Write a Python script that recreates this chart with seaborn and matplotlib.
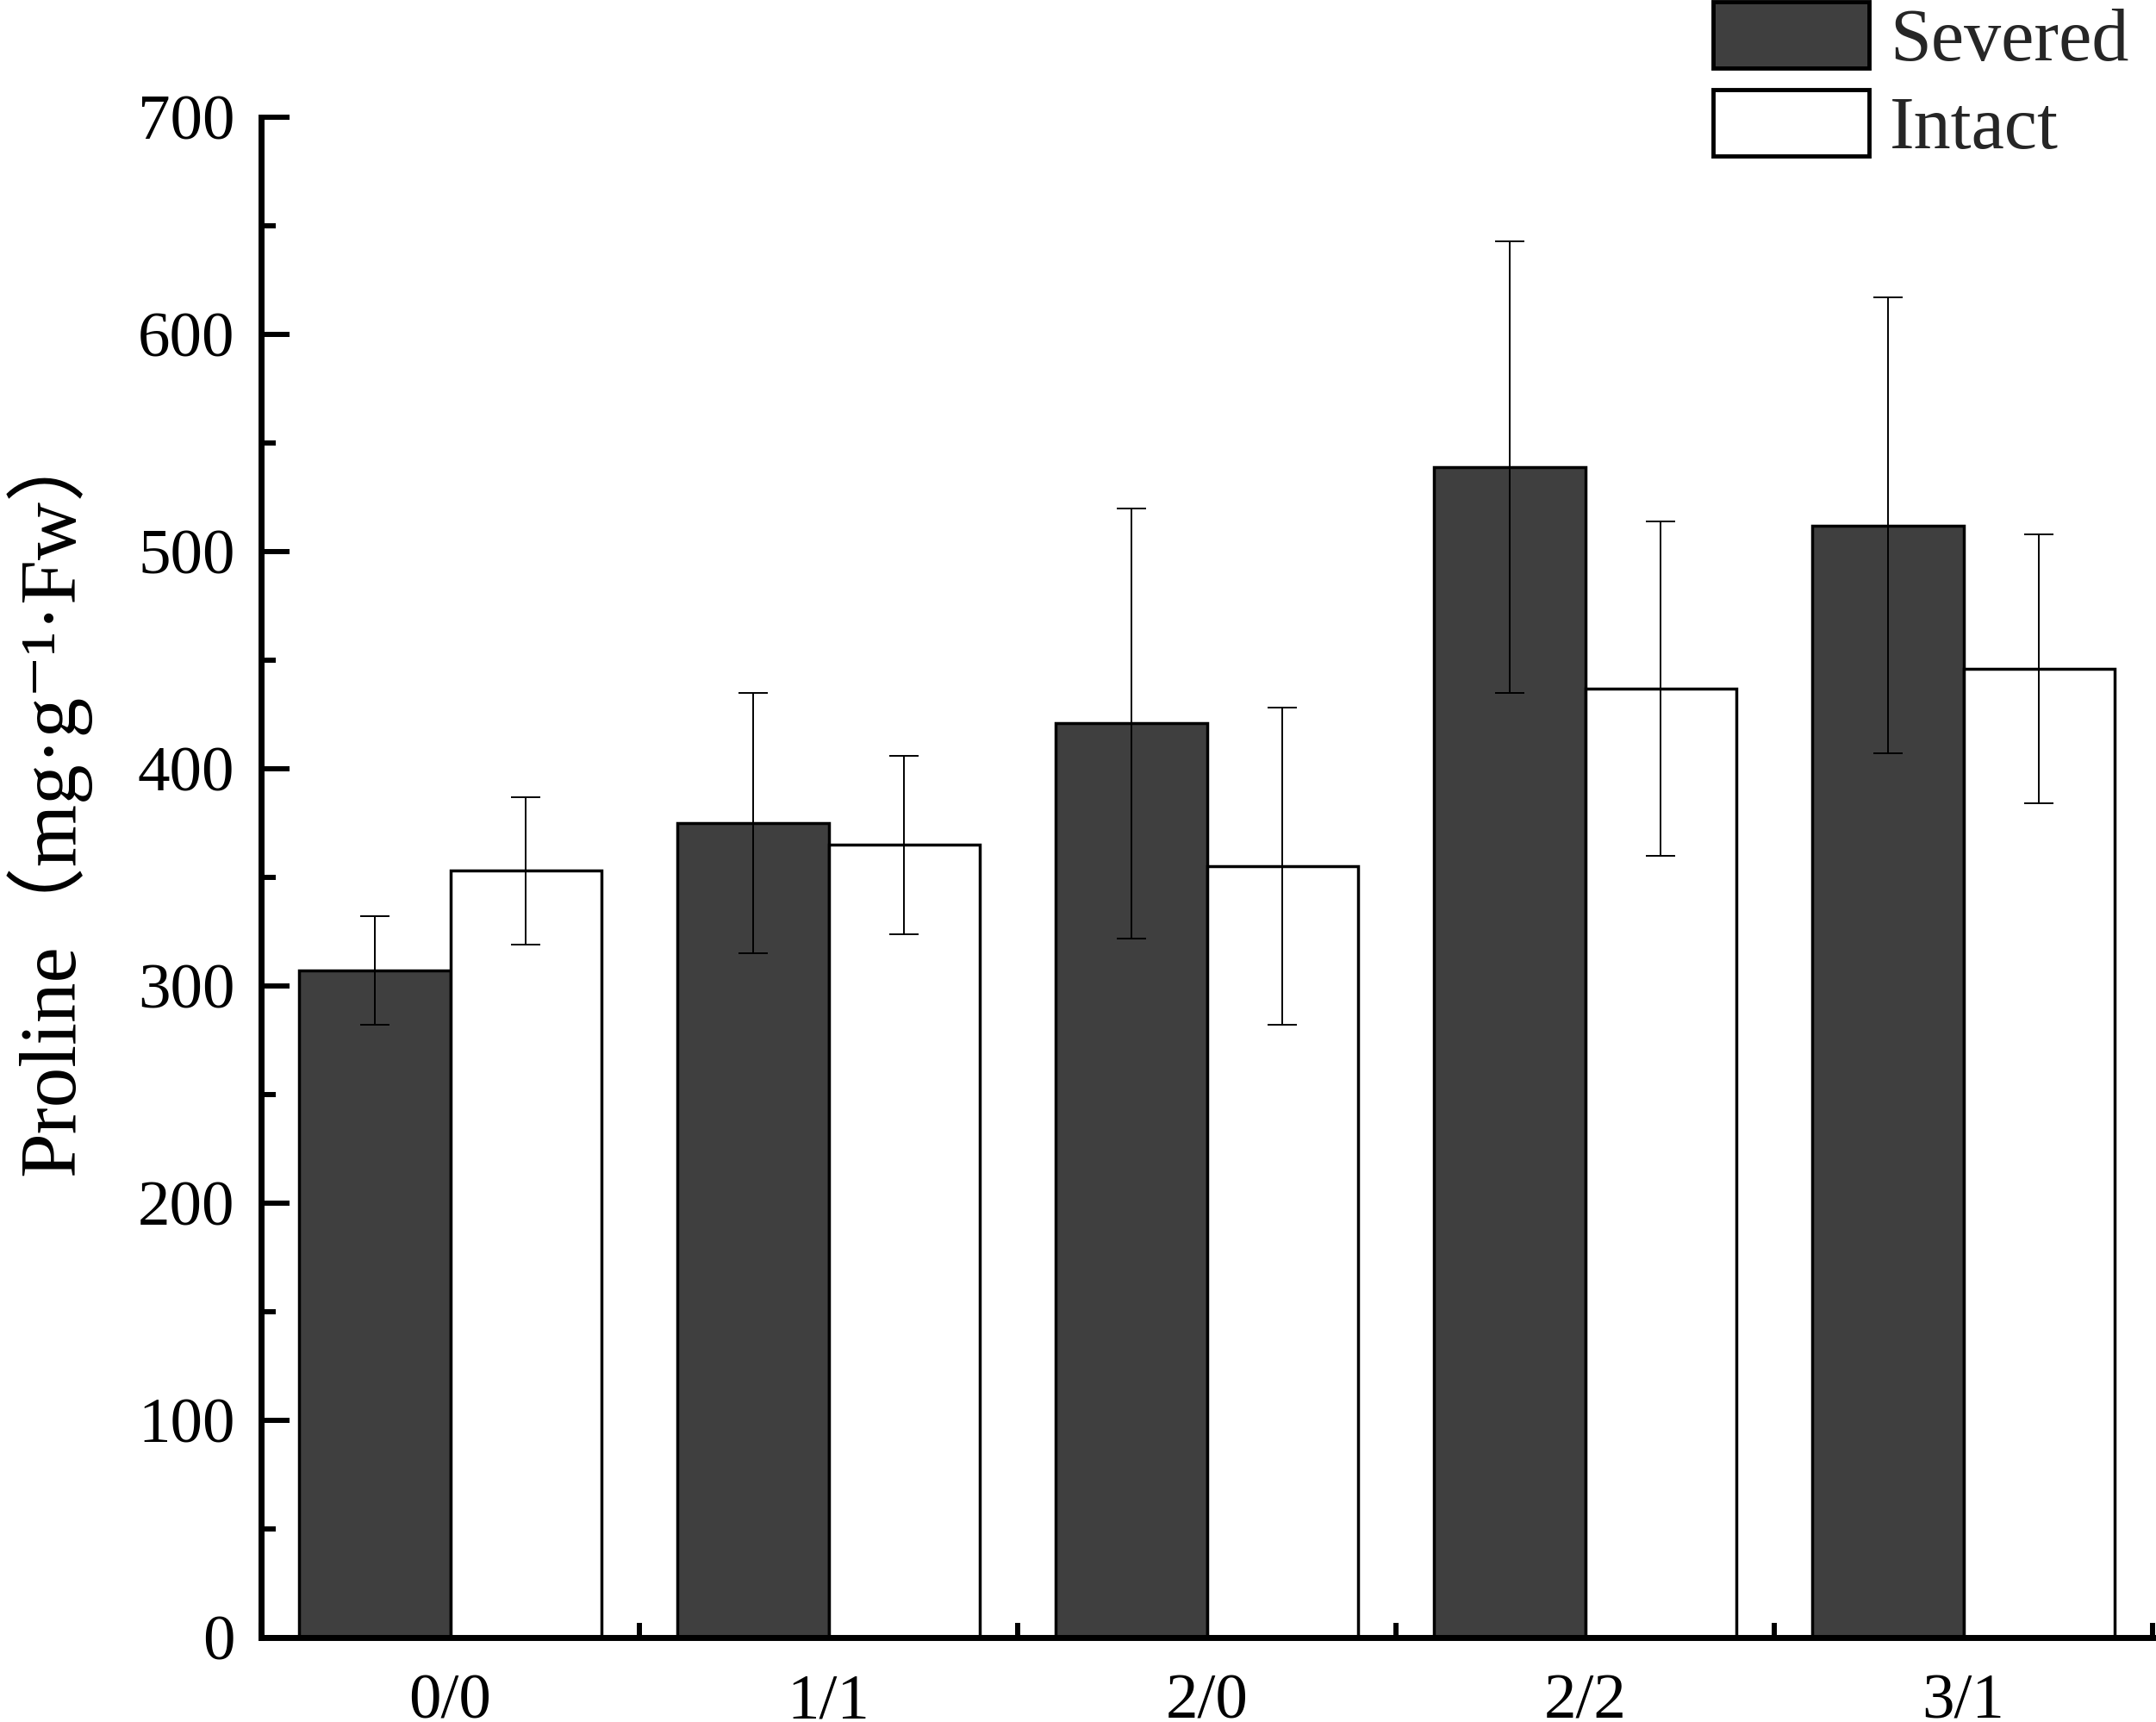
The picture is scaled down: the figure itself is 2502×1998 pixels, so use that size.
import pandas as pd
import matplotlib
matplotlib.use('Agg')
import matplotlib.pyplot as plt
from matplotlib.patches import Patch
from matplotlib.ticker import MultipleLocator, FixedLocator, NullFormatter
import seaborn as sns

# data
groups = ['0/0', '1/1', '2/0', '2/2', '3/1']
severed_mean = [307, 375, 421, 539, 512]
severed_err = [25, 60, 99, 104, 105]
intact_mean = [353, 365, 355, 437, 446]
intact_err = [34, 41, 73, 77, 62]
treatments = ['Severed', 'Intact']

sns.set_theme(style="white")
plt.rcParams['font.family'] = ['Liberation Serif', 'Noto Sans CJK SC', 'DejaVu Sans']
plt.rcParams['axes.unicode_minus'] = False

df = pd.DataFrame({
    'group': groups * 2,
    'treatment': ['Severed'] * len(groups) + ['Intact'] * len(groups),
    'value': severed_mean + intact_mean,
})
errs = {'Severed': severed_err, 'Intact': intact_err}
colors = {'Severed': '#3f3f3f', 'Intact': 'white'}

fig = plt.figure(figsize=(25.02, 19.98), dpi=100)
ax = fig.add_axes([303 / 2502, 1 - 1900 / 1998, (2498 - 303) / 2502, (1900 - 136) / 1998])

sns.barplot(data=df, x='group', y='value', hue='treatment', hue_order=treatments,
            palette=colors, edgecolor='black', linewidth=2.5, width=0.8,
            errorbar=None, legend=False, ax=ax)

# error bars on top of each bar
for cont, name in zip(ax.containers, treatments):
    xs = [b.get_x() + b.get_width() / 2 for b in cont]
    hs = [b.get_height() for b in cont]
    ax.errorbar(xs, hs, yerr=errs[name], fmt='none', ecolor='black',
                elinewidth=1.4, capsize=12.5, capthick=1.4, zorder=5)

ax.set_xlim(-0.5, len(groups) - 0.5)
ax.set_ylim(0, 700)
ax.yaxis.set_major_locator(MultipleLocator(100))
ax.yaxis.set_minor_locator(MultipleLocator(50))
ax.xaxis.set_minor_locator(FixedLocator([i - 0.5 for i in range(len(groups) + 1)]))
ax.xaxis.set_minor_formatter(NullFormatter())

for s in ['top', 'right']:
    ax.spines[s].set_visible(False)
for s in ['left', 'bottom']:
    ax.spines[s].set_linewidth(5)
    ax.spines[s].set_color('black')

ax.tick_params(axis='both', which='major', direction='in', length=24, width=4.3,
               labelsize=54, colors='black')
ax.tick_params(axis='both', which='minor', direction='in', length=12, width=4.3,
               colors='black')
ax.tick_params(axis='y', which='major', pad=22)
ax.tick_params(axis='x', which='major', pad=30)
ax.tick_params(axis='both', which='both', left=True, bottom=True)

ax.set_xlabel('')
ax.set_ylabel('Proline（mg·g⁻¹·Fw）', fontsize=67, color='black')
ax.yaxis.set_label_coords(-0.090, 0.553)

handles = [Patch(facecolor=colors[t], edgecolor='black', linewidth=3.5) for t in treatments]
fig.legend(handles, treatments, loc='upper left', bbox_to_anchor=(1988 / 2502, 1 - 2 / 1998),
           frameon=False, fontsize=62, handlelength=2.1, handleheight=1.0,
           labelspacing=0.17, handletextpad=0.28, borderpad=0, borderaxespad=0)

fig.savefig('out.png', dpi=100)
